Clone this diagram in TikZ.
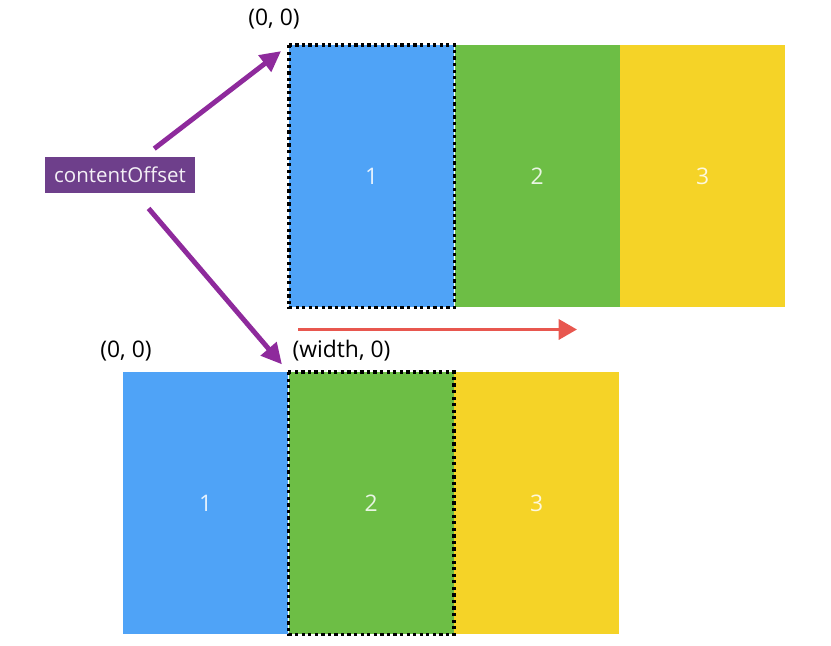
\documentclass[tikz,border=0pt]{standalone}
\usepackage{fontspec}
\setmainfont{Open Sans}
\usetikzlibrary{arrows.meta,positioning}
\definecolor{pageblue}{HTML}{4FA3F7}
\definecolor{pagegreen}{HTML}{6DBE45}
\definecolor{pageyellow}{HTML}{F5D327}
\definecolor{offpurple}{HTML}{6E3F8B}
\definecolor{arrowpurple}{HTML}{8E2A9C}
\definecolor{slidered}{HTML}{E8574F}
\begin{document}
\begin{tikzpicture}[x=0.03cm, y=-0.03cm, font=\fontsize{19.5}{22}\selectfont,
  page/.style={minimum width=4.95cm, minimum height=7.86cm, inner sep=0pt, anchor=north west, text=white, text opacity=0.85},
  frame/.style={draw=black, line width=2.8pt, dash pattern=on 2.8pt off 2.8pt},
  push/.style={draw=arrowpurple, line width=4.2pt, -{Triangle[length=0.62cm, width=0.6cm]}},
  slide/.style={draw=slidered, line width=3pt, -{Triangle[length=0.55cm, width=0.6cm]}}]
  \useasboundingbox (0,0) rectangle (831,646);
  % upper row
  \node[page, fill=pageblue] (upA) at (289,45) {1};
  \node[page, fill=pagegreen, right=0pt of upA] (upB) {2};
  \node[page, fill=pageyellow, right=0pt of upB] (upC) {3};
  \draw[frame] (upA.north west) rectangle (upA.south east);
  \node (zeroUp) at ([shift={(-15,-26)}]upA.north west) {(0, 0)};
  % lower row
  \node[page, fill=pageblue] (lowA) at (123,372) {1};
  \node[page, fill=pagegreen, right=0pt of lowA] (lowB) {2};
  \node[page, fill=pageyellow, right=0pt of lowB] (lowC) {3};
  \draw[frame] (lowB.north west) rectangle (lowB.south east);
  \node (zeroLow) at ([shift={(3,-21)}]lowA.north west) {(0, 0)};
  \node (widthLow) at ([shift={(53,-21)}]lowB.north west) {(width, 0)};
  % offset
  \node[fill=offpurple, text=white!92!offpurple, font=\fontsize{17.5}{20}\selectfont, minimum width=4.5cm, minimum height=1.08cm, inner sep=1pt] (offset) at (120,175) {contentOffset};
  \draw[push, shorten <=0.4cm, shorten >=0.3cm] (offset) -- (upA.north west);
  \draw[push, shorten <=0.6cm, shorten >=0.3cm] (offset) -- (lowB.north west);
  \draw[slide] ([shift={(9,22)}]upA.south west) -- ++(279,0);
\end{tikzpicture}
\end{document}
